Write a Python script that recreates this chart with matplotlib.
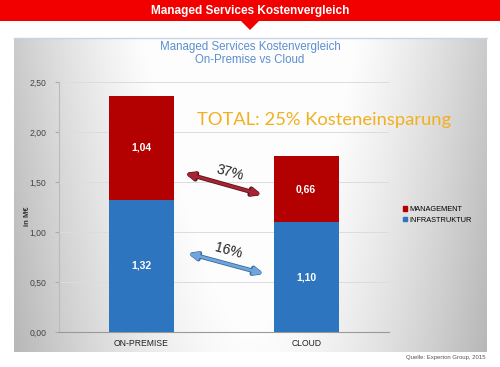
import numpy as np
import matplotlib
matplotlib.use("Agg")
import matplotlib.pyplot as plt
from matplotlib.patches import Polygon, Rectangle, FancyArrowPatch, Patch

categories = ["ON-PREMISE", "CLOUD"]
infrastruktur = [1.32, 1.10]
management = [1.04, 0.66]
series_names = ["MANAGEMENT", "INFRASTRUKTUR"]
yticks = [0.0, 0.5, 1.0, 1.5, 2.0, 2.5]
pct_labels = ["37%", "16%"]

W, H = 500, 367
fig = plt.figure(figsize=(5, 3.67), dpi=100)
fig.patch.set_facecolor("white")

def fx(px): return px / W
def fy(py): return 1 - py / H

# Panel background gradient
bg = fig.add_axes([fx(14), fy(352), fx(487) - fx(14), fy(38) - fy(352)])
nx, ny = 200, 120
xs = np.linspace(0, 1, nx)
ys = np.linspace(0, 1, ny)
X, Y = np.meshgrid(xs, ys)
horiz = 1 - np.clip(np.abs(X - 0.5) / 0.5, 0, 1) ** 1.6
val = 0.72 + 0.27 * horiz + 0.08 * (1 - Y)
val = np.clip(val, 0, 0.995)
img = np.dstack([val, val, val])
bg.imshow(img, aspect="auto", extent=[0, 1, 0, 1], origin="upper")
bg.set_axis_off()

# Header band and texts
hdr = fig.add_axes([0, 0, 1, 1], facecolor="none")
hdr.set_xlim(0, W); hdr.set_ylim(H, 0); hdr.set_axis_off()
hdr.add_patch(Rectangle((0, 0), W, 21, color="#f20000", lw=0))
hdr.add_patch(Polygon([[240, 20], [260, 20], [250, 30]], color="#f20000", lw=0))
hdr.text(250, 11, "Managed Services Kostenvergleich", color="white", fontsize=8.5,
         fontweight="bold", ha="center", va="center", family="Liberation Sans")
hdr.plot([14, 487], [38, 38], color="#c8d4e4", lw=1)
hdr.text(250, 47, "Managed Services Kostenvergleich", color="#5b8fd0", fontsize=8.3,
         ha="center", va="center", family="Liberation Sans")
hdr.text(250, 60, "On-Premise vs Cloud", color="#5b8fd0", fontsize=8.3,
         ha="center", va="center", family="Liberation Sans")
hdr.text(197, 120, "TOTAL: 25% Kosteneinsparung", color="#f2b01e", fontsize=13.2,
         ha="left", va="center", family="Lato")
hdr.text(486, 357, "Quelle: Experton Group, 2015", color="#555555", fontsize=4.3,
         ha="right", va="center", family="Liberation Sans")

# Main axes
ax = fig.add_axes([fx(59), fy(332), fx(388.5) - fx(59), fy(82) - fy(332)], facecolor="none")
x = np.arange(len(categories))
w = 0.395
c_inf = "#2e75c0"
c_man = "#b30000"
ax.bar(x, infrastruktur, w, color=c_inf, zorder=3)
ax.bar(x, management, w, bottom=infrastruktur, color=c_man, zorder=3)
for i in range(len(categories)):
    ax.text(x[i], infrastruktur[i] / 2, f"{infrastruktur[i]:.2f}".replace(".", ","),
            color="white", fontsize=7.5, fontweight="bold", ha="center", va="center",
            family="Liberation Sans", zorder=4)
    ax.text(x[i], infrastruktur[i] + management[i] / 2, f"{management[i]:.2f}".replace(".", ","),
            color="white", fontsize=7.5, fontweight="bold", ha="center", va="center",
            family="Liberation Sans", zorder=4)

ax.set_xlim(-0.5, 1.5)
ax.set_ylim(0, 2.5)
ax.set_yticks(yticks)
ax.set_yticklabels([f"{t:.2f}".replace(".", ",") for t in yticks], fontsize=6.2,
                   color="#444444", family="Liberation Sans")
ax.set_xticks(x)
ax.set_xticklabels(categories, fontsize=6.2, color="#222222", family="Liberation Sans")
ax.tick_params(axis="x", length=0, pad=5)
ax.tick_params(axis="y", length=3, color="#aaaaaa", pad=6)
ax.grid(axis="y", color="#dcdcdc", lw=0.7, zorder=0)
for s in ["top", "right"]:
    ax.spines[s].set_visible(False)
ax.spines["left"].set_color("#bbbbbb")
ax.spines["bottom"].set_color("#999999")
ax.set_ylabel("in M€", fontsize=5.5, fontweight="bold", color="#333333",
              family="Liberation Sans")
ax.yaxis.set_label_coords(-0.085, 0.464)

# Arrows
style = "<|-|>,head_length=5,head_width=2.2"
for (p0, p1, fc, ec) in [((0.26, 1.59), (0.735, 1.37), "#a52535", "#5a1018"),
                         ((0.278, 0.79), (0.748, 0.58), "#6ea6dc", "#3a6a9a")]:
    ax.add_patch(FancyArrowPatch(p0, p1, arrowstyle=style, mutation_scale=1, lw=3.2,
                                 color=ec, zorder=4, shrinkA=0, shrinkB=0))
    ax.add_patch(FancyArrowPatch(p0, p1, arrowstyle=style, mutation_scale=1, lw=2.0,
                                 color=fc, zorder=5, shrinkA=1, shrinkB=1))
ax.text(0.54, 1.59, pct_labels[0], fontsize=10, rotation=-15, ha="center", va="center",
        color="#222222", family="Liberation Sans", zorder=6)
ax.text(0.53, 0.81, pct_labels[1], fontsize=10, rotation=-15, ha="center", va="center",
        color="#222222", family="Liberation Sans", zorder=6)

# Legend
handles = [Patch(color=c_man), Patch(color=c_inf)]
fig.legend(handles, series_names, loc="center left", bbox_to_anchor=(fx(396), fy(215)),
           frameon=False, handlelength=0.6, handleheight=0.6,
           handletextpad=0.3, labelspacing=0.45, prop={"family": "Liberation Sans", "size": 5.3})

fig.savefig("out.png", dpi=100)
